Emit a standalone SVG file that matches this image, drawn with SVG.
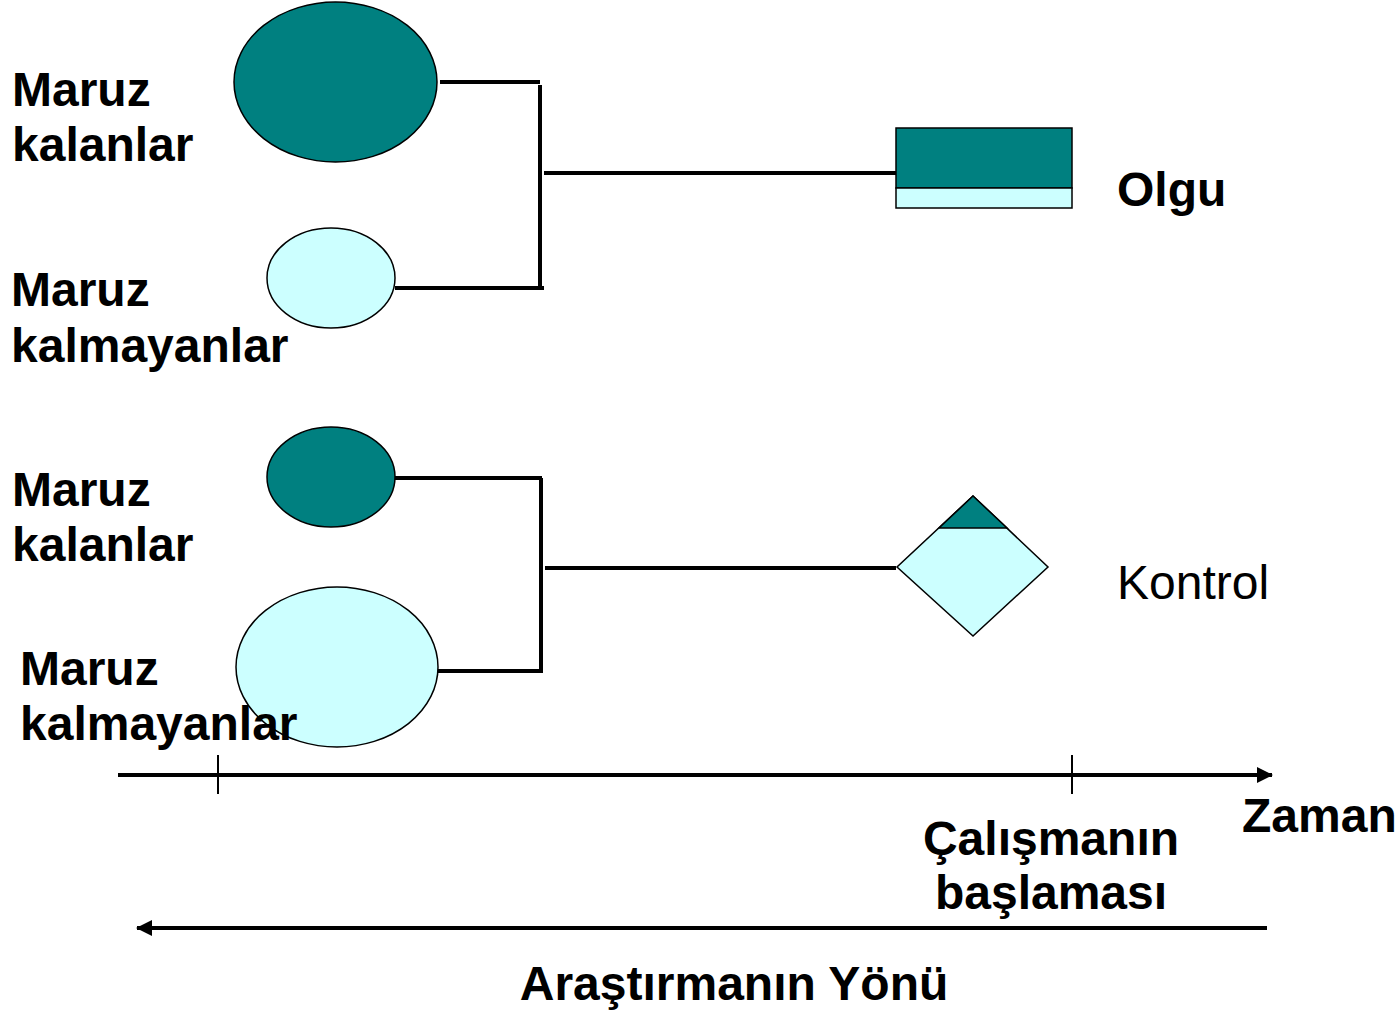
<svg xmlns="http://www.w3.org/2000/svg" width="1400" height="1011" viewBox="0 0 1400 1011">
  <style>
    .lbl { font-family: "Liberation Sans", Arial, sans-serif; font-size: 48px; fill: #000; }
    .b { font-weight: bold; }
    .dark { fill: #008080; stroke: #000; stroke-width: 1.5; }
    .light { fill: #CCFFFF; stroke: #000; stroke-width: 1.5; }
    .wire { stroke: #000; stroke-width: 4; fill: none; }
    .axis { stroke: #000; stroke-width: 4; fill: none; }
    .tick { stroke: #000; stroke-width: 2; }
  </style>
  <defs>
    <marker id="head" viewBox="0 0 16 16" refX="15" refY="8" markerWidth="16" markerHeight="16" markerUnits="userSpaceOnUse" orient="auto">
      <path d="M0,0 L16,8 L0,16 Z" fill="#000"/>
    </marker>
  </defs>
  <rect width="1400" height="1011" fill="#fff"/>

  <!-- upper group: exposed / unexposed leading to cases -->
  <g id="exposed-1">
    <ellipse class="dark" cx="335.5" cy="82" rx="101.5" ry="80"/>
    <text class="lbl b" x="12" y="106">Maruz</text>
    <text class="lbl b" x="12" y="161">kalanlar</text>
  </g>
  <g id="unexposed-1">
    <ellipse class="light" cx="331" cy="278" rx="64" ry="50"/>
    <text class="lbl b" x="11" y="306">Maruz</text>
    <text class="lbl b" x="11" y="362">kalmayanlar</text>
  </g>
  <g id="cases">
    <rect class="dark" x="896" y="128" width="176" height="60" stroke-width="2"/>
    <rect class="light" x="896" y="188" width="176" height="20" stroke-width="2"/>
    <text class="lbl b" x="1117" y="206">Olgu</text>
  </g>

  <!-- lower group: exposed / unexposed leading to controls -->
  <g id="exposed-2">
    <ellipse class="dark" cx="331" cy="477" rx="64" ry="50"/>
    <text class="lbl b" x="12" y="506">Maruz</text>
    <text class="lbl b" x="12" y="561">kalanlar</text>
  </g>
  <g id="unexposed-2">
    <ellipse class="light" cx="337" cy="667" rx="101" ry="80"/>
    <text class="lbl b" x="20" y="685">Maruz</text>
    <text class="lbl b" x="20" y="740">kalmayanlar</text>
  </g>
  <g id="controls">
    <polygon class="light" points="973,496 1048,567 973,636 897,567"/>
    <polygon class="dark" points="973,496 1007,528 939,528"/>
    <text class="lbl" x="1117" y="599">Kontrol</text>
  </g>

  <!-- brackets joining each pair to its outcome -->
  <g id="connectors">
    <path class="wire" d="M440,82 H540 M540,85 V286 M395,288 H544 M544,173 H896"/>
    <path class="wire" d="M395,478 H542 M541,478 V673 M438,671 H541 M545,568 H896"/>
  </g>

  <!-- time axis -->
  <g id="time-axis">
    <line class="axis" x1="118" y1="775" x2="1272" y2="775" marker-end="url(#head)"/>
    <line class="tick" x1="218" y1="755" x2="218" y2="794"/>
    <line class="tick" x1="1072" y1="755" x2="1072" y2="794"/>
    <text class="lbl b" x="1242" y="832">Zaman</text>
    <text class="lbl b" x="1051" y="855" text-anchor="middle">Çalışmanın</text>
    <text class="lbl b" x="1051" y="909" text-anchor="middle">başlaması</text>
  </g>

  <!-- direction of the study -->
  <g id="direction">
    <line class="axis" x1="1267" y1="928" x2="137" y2="928" marker-end="url(#head)"/>
    <text class="lbl b" x="734" y="1000" text-anchor="middle">Araştırmanın Yönü</text>
  </g>
</svg>
